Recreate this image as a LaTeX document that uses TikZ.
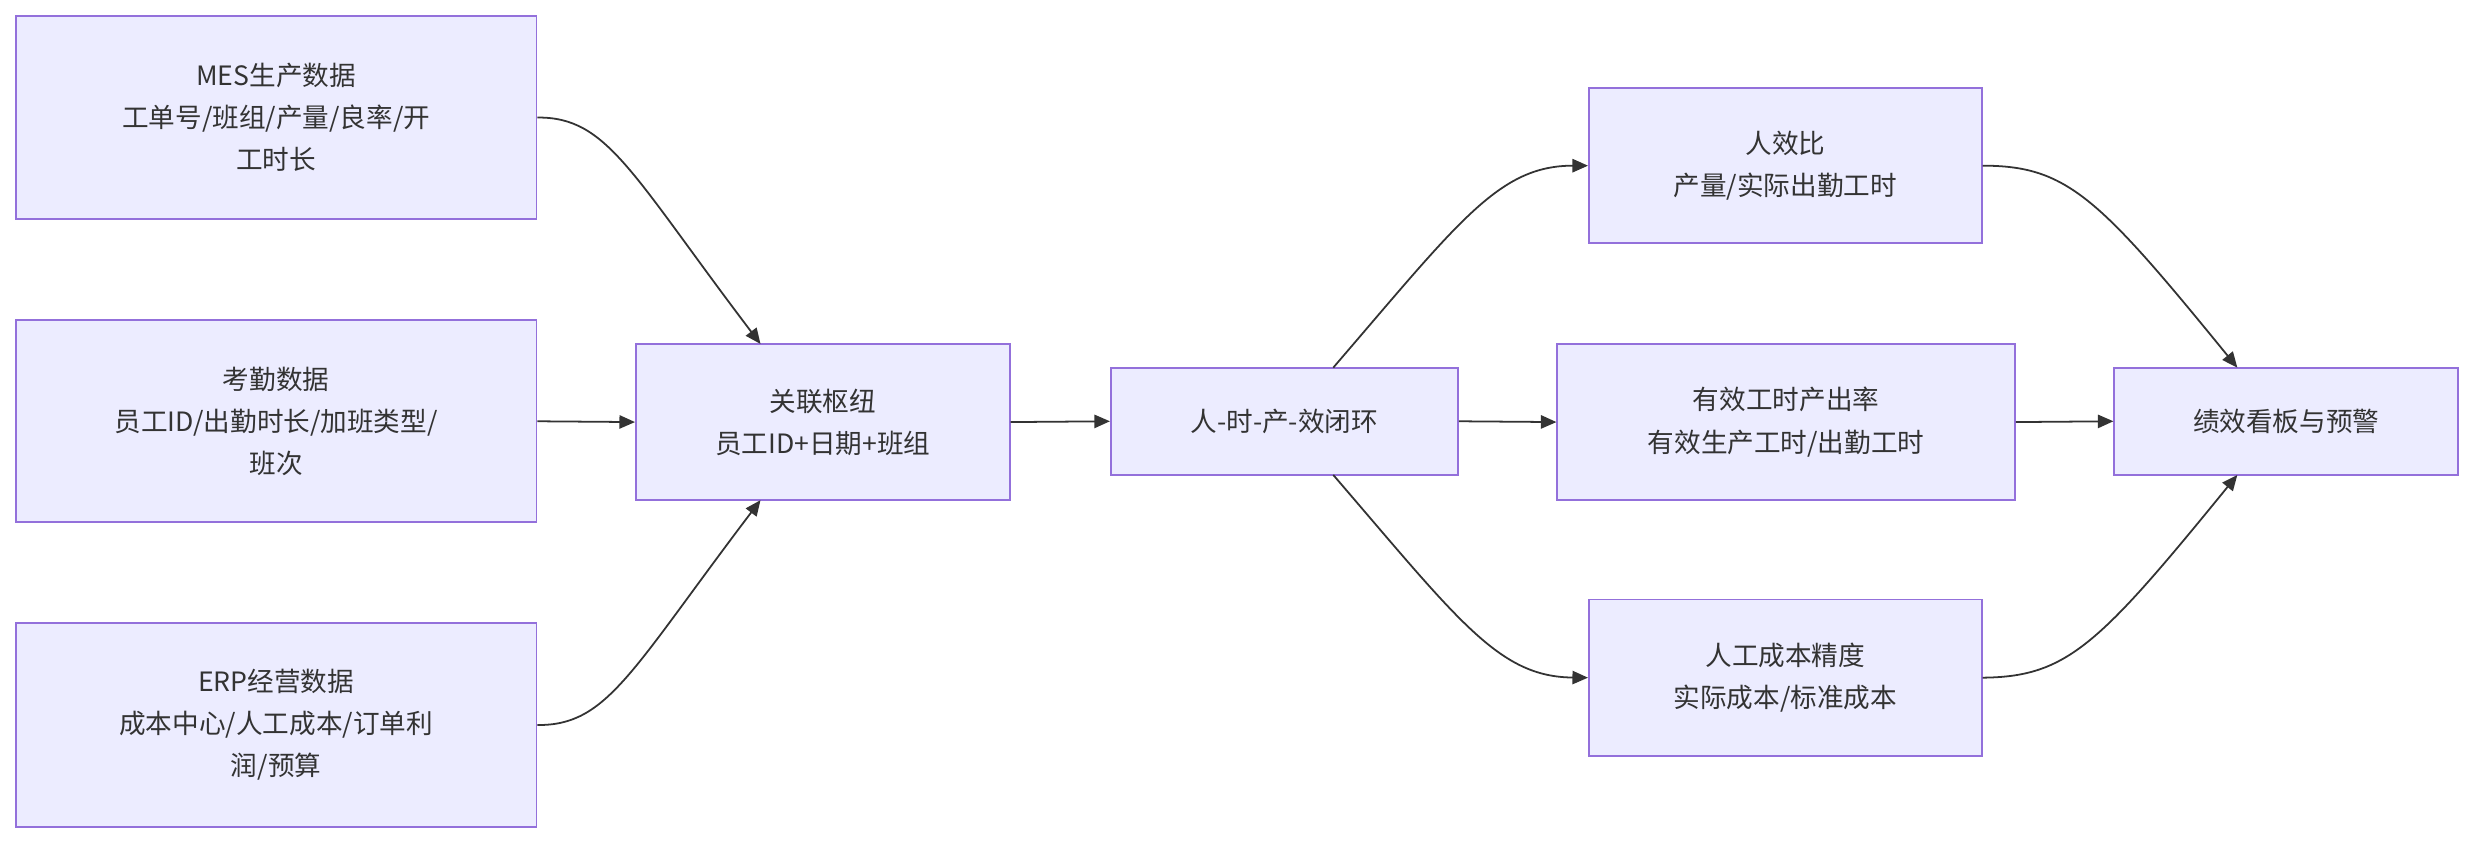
\documentclass[tikz,border=0pt]{standalone}
\usepackage{fontspec}
\setmainfont{Noto Sans CJK SC}
\usetikzlibrary{arrows.meta}
\definecolor{nfill}{HTML}{ECECFF}
\definecolor{nline}{HTML}{9370DB}
\definecolor{eline}{HTML}{333333}
\begin{document}
\begin{tikzpicture}[x=0.05cm,y=-0.05cm,
 box/.style={draw=nline,fill=nfill,line width=1.6pt,align=center,inner sep=0pt,
   font=\fontsize{24}{38}\selectfont,text=eline},
 ar/.style={draw=eline,line width=1.6pt,-{Triangle[length=14pt,width=12pt]}}]
\useasboundingbox (0,0) rectangle (1568,535);
\fill[white] (0,0) rectangle (1568,535);
\node[box,minimum width=16.5cm,minimum height=6.45cm] (mes) at (175,74.5) {MES生产数据\\工单号/班组/产量/良率/开\\工时长};
\node[box,minimum width=16.5cm,minimum height=6.4cm] (kq) at (175,267) {考勤数据\\员工ID/出勤时长/加班类型/\\班次};
\node[box,minimum width=16.5cm,minimum height=6.45cm] (erp) at (175,459.5) {ERP经营数据\\成本中心/人工成本/订单利\\润/预算};
\node[box,minimum width=11.85cm,minimum height=4.95cm] (hub) at (521.5,267.5) {关联枢纽\\员工ID+日期+班组};
\node[box,minimum width=11cm,minimum height=3.4cm] (loop) at (814,267) {人-时-产-效闭环};
\node[box,minimum width=12.45cm,minimum height=4.9cm] (rx) at (1131.5,105) {人效比\\产量/实际出勤工时};
\node[box,minimum width=14.5cm,minimum height=4.95cm] (yx) at (1132,267.5) {有效工时产出率\\有效生产工时/出勤工时};
\node[box,minimum width=12.45cm,minimum height=4.95cm] (cb) at (1131.5,429.5) {人工成本精度\\实际成本/标准成本};
\node[box,minimum width=10.9cm,minimum height=3.4cm] (kb) at (1449,267) {绩效看板与预警};
\coordinate (h1) at (482,218);
\coordinate (h2) at (482,317);
\coordinate (l1) at (845,233);
\coordinate (l2) at (845,301);
\coordinate (k1) at (1418,233);
\coordinate (k2) at (1418,301);
\draw[ar] (mes.east) .. controls (385,74) and (400,110) .. (h1);
\draw[ar] (erp.east) .. controls (385,460) and (400,425) .. (h2);
\draw[ar] (kq.east) -- (hub.west);
\draw[ar] (hub.east) -- (loop.west);
\draw[ar] (loop.east) -- (yx.west);
\draw[ar] (yx.east) -- (kb.west);
\draw[ar] (l1) .. controls (925,140) and (950,105) .. (rx.west);
\draw[ar] (l2) .. controls (925,394) and (950,429) .. (cb.west);
\draw[ar] (rx.east) .. controls (1310,105) and (1330,125) .. (k1);
\draw[ar] (cb.east) .. controls (1310,429) and (1330,409) .. (k2);
\end{tikzpicture}
\end{document}
